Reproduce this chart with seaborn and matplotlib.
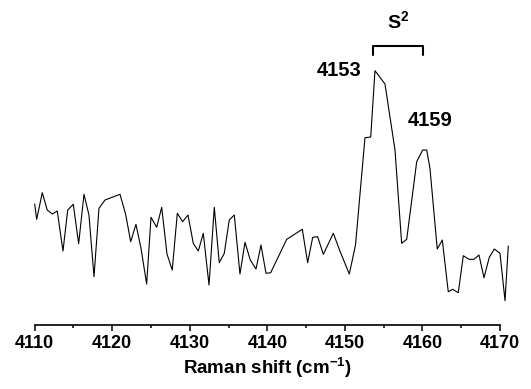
import numpy as np
import pandas as pd
import matplotlib
matplotlib.use("Agg")
import matplotlib.pyplot as plt
import seaborn as sns

# spectrum (intensity in arbitrary units)
shift = [4110.00, 4110.26, 4110.98, 4111.62, 4112.27, 4112.91, 4113.65, 4114.26,
         4114.98, 4115.67, 4116.36, 4117.00, 4117.65, 4118.29, 4119.07, 4121.00,
         4121.73, 4122.38, 4123.06, 4123.71, 4124.44, 4125.00, 4125.73, 4126.38,
         4127.06, 4127.74, 4128.39, 4129.08, 4129.77, 4130.45, 4131.10, 4131.74,
         4132.48, 4133.16, 4133.80, 4134.45, 4135.09, 4135.74, 4136.47, 4137.12,
         4137.80, 4138.54, 4139.18, 4139.83, 4140.43, 4142.50, 4144.51, 4145.20,
         4145.85, 4146.49, 4147.22, 4148.51, 4149.37, 4150.57, 4151.37, 4152.59,
         4153.33, 4153.88, 4155.17, 4156.46, 4157.32, 4157.97, 4159.26, 4160.03,
         4160.55, 4160.97, 4161.91, 4162.56, 4163.33, 4163.90, 4164.62, 4165.27,
         4166.00, 4166.65, 4167.29, 4167.94, 4168.62, 4169.27, 4170.00, 4170.65,
         4171.07]
intensity = [121, 105.7, 132.3, 115, 111, 114, 74, 115,
             120.7, 81.3, 130.7, 110, 48.3, 116.7, 125, 130.7,
             110.7, 83.3, 100.7, 76.7, 41, 107.7, 97.7, 117.7,
             71, 55, 111.7, 103.3, 110, 81.7, 74, 91.7,
             40, 117.7, 62.3, 71.7, 105, 110, 51, 82.7,
             65, 56, 80, 51.7, 52.3, 85.7, 95.7, 62.3,
             87.7, 88.3, 70.7, 91.7, 73.8, 51, 80, 187.3,
             188, 254.3, 241, 175, 81.7, 85.7, 163.3, 175,
             175, 156.7, 76, 85, 33.3, 35.7, 32.3, 69.3,
             65.7, 65.7, 70, 47.3, 67.7, 76, 71.7, 24.3,
             79]

peak_labels = ["4153", "4159"]
peak_pos = [(4149.24, 254.5), (4160.97, 205)]
band_label = r"S$^{\mathbf{2}}$"
band_range = [4153.66, 4160.03]

sns.set_theme(style="white")
plt.rcParams["font.family"] = ["Liberation Sans", "DejaVu Sans"]
plt.rcParams["mathtext.fontset"] = "custom"
plt.rcParams["mathtext.rm"] = "Liberation Sans"
plt.rcParams["mathtext.bf"] = "Liberation Sans:bold"
plt.rcParams["text.color"] = "black"
plt.rcParams["axes.labelcolor"] = "black"
plt.rcParams["xtick.color"] = "black"

df = pd.DataFrame({"shift": shift, "intensity": intensity})

fig = plt.figure(figsize=(5.31, 3.89), dpi=100)
ax = fig.add_axes([0.0653, 0.1645, 0.8763, 0.8355])

sns.lineplot(data=df, x="shift", y="intensity", color="black", linewidth=0.8,
             estimator=None, ax=ax, clip_on=False)

ax.set_xlim(4110, 4170)
ax.set_ylim(0, 325)

for side in ["top", "left", "right"]:
    ax.spines[side].set_visible(False)
ax.spines["bottom"].set_color("black")
ax.spines["bottom"].set_linewidth(1.2)

ax.set_xticks(np.arange(4110, 4171, 10))
ax.set_xticks(np.arange(4115, 4170, 10), minor=True)
ax.tick_params(axis="x", which="major", direction="out", length=4.5, width=1.1,
               color="black", bottom=True, labelsize=13, pad=3,
               labelcolor="black")
ax.tick_params(axis="x", which="minor", direction="out", length=2.5, width=1.1,
               color="black", bottom=True)
for lab in ax.get_xticklabels():
    lab.set_fontweight("bold")
ax.set_yticks([])
ax.set_ylabel("")
ax.set_xlabel(r"Raman shift (cm$^{\mathbf{-1}}$)", fontsize=13.5,
              fontweight="bold", labelpad=2, color="black")

# peak annotations
for txt, (px, py) in zip(peak_labels, peak_pos):
    ax.text(px, py, txt, ha="center", va="center", fontsize=14.5,
            fontweight="bold", color="black")

# bracket with band label
b0, b1 = band_range
ax.plot([b0, b0, b1, b1], [270, 279.3, 279.3, 270], color="black",
        linewidth=1.5, clip_on=False)
ax.text((b0 + b1) / 2, 303, band_label, ha="center", va="center",
        fontsize=14, fontweight="bold", color="black")

fig.savefig("out.png", dpi=100)
